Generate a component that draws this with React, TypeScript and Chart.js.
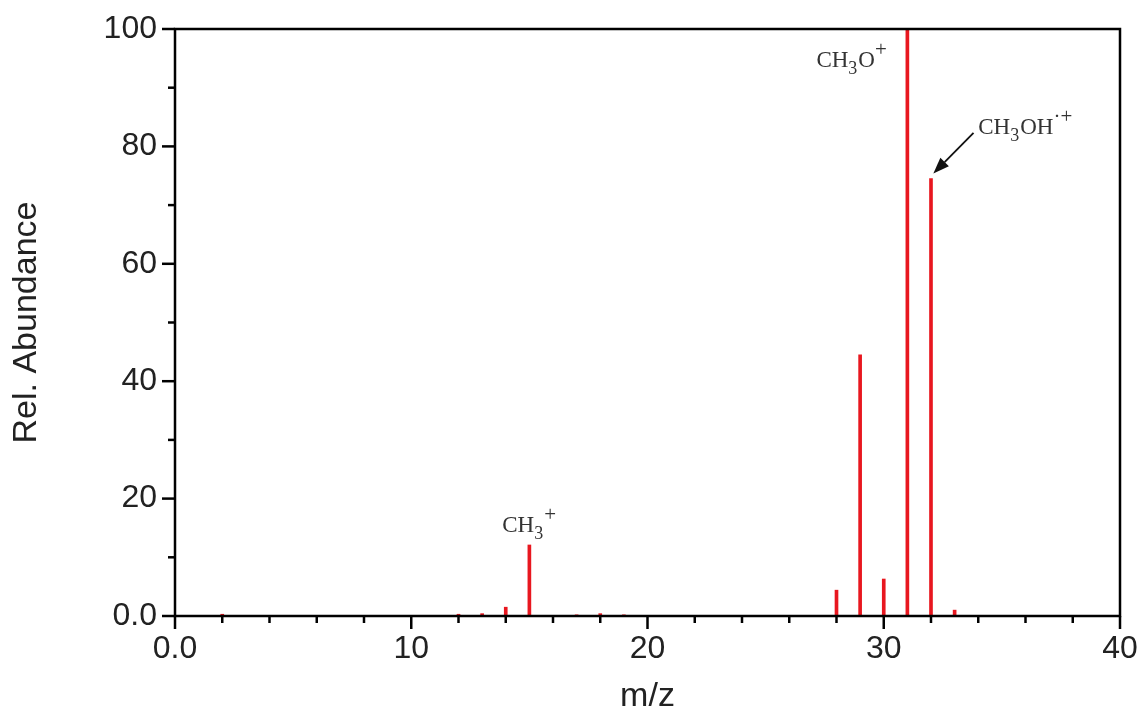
import React, { useEffect, useRef } from 'react';
import { Chart, registerables } from 'chart.js';

Chart.register(...registerables);

// ---- data ----
const mzValues = [2, 12, 13, 14, 15, 17, 18, 19, 28, 29, 30, 31, 32, 33];
const relAbundance = [0.3, 0.3, 0.4, 1.5, 12.1, 0.2, 0.4, 0.2, 4.4, 44.5, 6.3, 100, 74.5, 1.0];

const xTickValues = [0, 10, 20, 30, 40];
const xTickLabels = ['0.0', '10', '20', '30', '40'];
const yTickValues = [0, 20, 40, 60, 80, 100];
const yTickLabels = ['0.0', '20', '40', '60', '80', '100'];
const xMinorStep = 2;
const yMinorStep = 10;

// peak annotations: [text, style] parts, anchored in data coords (start of text baseline)
const annotationParts = [
  [['CH', ''], ['3', 'sub'], ['+', 'sup']],
  [['CH', ''], ['3', 'sub'], ['O', ''], ['+', 'sup']],
  [['CH', ''], ['3', 'sub'], ['OH', ''], ['\u00B7+', 'sup']],
];
const annotationX = [13.85, 27.15, 34.0];
const annotationY = [14.3, 93.6, 82.1];
// arrow from annotation toward m/z 32 peak
const arrowFrom = [33.8, 82.3];
const arrowTo = [32.1, 75.4];

const RED = '#e8171f';
const SANS = "'Liberation Sans', Arial, sans-serif";
const SERIF = "'Liberation Serif', 'Times New Roman', serif";

const decorPlugin = {
  id: 'decor',
  afterDatasetsDraw(chart: any) {
    const { ctx, chartArea } = chart;
    const xs = chart.scales.x;
    const ys = chart.scales.y;
    const { left, right, top, bottom } = chartArea;
    ctx.save();
    ctx.strokeStyle = '#000';
    ctx.lineWidth = 2.5;
    ctx.lineCap = 'butt';
    for (let v = xs.min; v <= xs.max + 1e-9; v += xMinorStep) {
      const px = xs.getPixelForValue(v);
      const major = xTickValues.includes(v);
      ctx.beginPath();
      ctx.moveTo(px, bottom);
      ctx.lineTo(px, bottom + (major ? 13 : 7));
      ctx.stroke();
    }
    for (let v = ys.min; v <= ys.max + 1e-9; v += yMinorStep) {
      const py = ys.getPixelForValue(v);
      const major = yTickValues.includes(v);
      ctx.beginPath();
      ctx.moveTo(left, py);
      ctx.lineTo(left - (major ? 13 : 7), py);
      ctx.stroke();
    }
    ctx.beginPath();
    ctx.rect(left, top, right - left, bottom - top);
    ctx.stroke();

    ctx.fillStyle = '#333';
    ctx.textBaseline = 'alphabetic';
    ctx.textAlign = 'left';
    annotationParts.forEach((parts, i) => {
      let px = xs.getPixelForValue(annotationX[i]);
      const py = ys.getPixelForValue(annotationY[i]);
      parts.forEach(([t, s]) => {
        let size = 23;
        let dy = 0;
        if (s === 'sub') { size = 18; dy = 7; }
        if (s === 'sup') { size = 21; dy = -11; }
        ctx.font = `${size}px ${SERIF}`;
        ctx.fillText(t, px, py + dy);
        px += ctx.measureText(t).width + (s === 'sub' ? 1 : 0);
      });
    });

    const ax0 = xs.getPixelForValue(arrowFrom[0]);
    const ay0 = ys.getPixelForValue(arrowFrom[1]);
    const ax1 = xs.getPixelForValue(arrowTo[0]);
    const ay1 = ys.getPixelForValue(arrowTo[1]);
    const ang = Math.atan2(ay1 - ay0, ax1 - ax0);
    const headLen = 16;
    const headW = 6;
    const bx = ax1 - headLen * Math.cos(ang);
    const by = ay1 - headLen * Math.sin(ang);
    ctx.strokeStyle = '#111';
    ctx.lineWidth = 1.8;
    ctx.beginPath();
    ctx.moveTo(ax0, ay0);
    ctx.lineTo(bx, by);
    ctx.stroke();
    ctx.fillStyle = '#111';
    ctx.beginPath();
    ctx.moveTo(ax1, ay1);
    ctx.lineTo(bx + headW * Math.sin(ang), by - headW * Math.cos(ang));
    ctx.lineTo(bx - headW * Math.sin(ang), by + headW * Math.cos(ang));
    ctx.closePath();
    ctx.fill();
    ctx.restore();
  },
};

export default function App() {
  const canvasRef = useRef<HTMLCanvasElement | null>(null);

  useEffect(() => {
    document.body.style.margin = '0';
    const canvas = canvasRef.current;
    if (!canvas) return;
    const chart = new Chart(canvas, {
      type: 'bar',
      data: {
        datasets: [
          {
            data: mzValues.map((m, i) => ({ x: m, y: relAbundance[i] })),
            backgroundColor: RED,
            borderWidth: 0,
            barThickness: 3,
          },
        ],
      },
      options: {
        responsive: false,
        animation: false,
        devicePixelRatio: 1,
        layout: { padding: { left: 0, top: 29, right: 21, bottom: 0 } },
        plugins: { legend: { display: false }, tooltip: { enabled: false } },
        scales: {
          x: {
            type: 'linear',
            min: 0,
            max: 40,
            offset: false,
            grid: { display: false, drawTicks: false, offset: false },
            border: { display: false },
            afterFit: (s: any) => {
              s.height = 98;
              s.paddingLeft = 0;
              s.paddingRight = 0;
            },
            afterBuildTicks: (s: any) => { s.ticks = xTickValues.map((v) => ({ value: v })); },
            ticks: {
              autoSkip: false,
              maxRotation: 0,
              padding: 14,
              color: '#222',
              font: { family: SANS, size: 32 },
              callback: (v: any) => {
                const i = xTickValues.indexOf(Number(v));
                return i >= 0 ? xTickLabels[i] : '';
              },
            },
            title: {
              display: true,
              text: 'm/z',
              color: '#222',
              font: { family: SANS, size: 34, lineHeight: 1 },
              padding: { top: 0, bottom: 0 },
            },
          },
          y: {
            min: 0,
            max: 100,
            grid: { display: false, drawTicks: false },
            border: { display: false },
            afterFit: (s: any) => {
              s.width = 175;
              s.paddingTop = 0;
              s.paddingBottom = 0;
            },
            afterBuildTicks: (s: any) => { s.ticks = yTickValues.map((v) => ({ value: v })); },
            ticks: {
              autoSkip: false,
              padding: 18,
              color: '#222',
              font: { family: SANS, size: 32 },
              callback: (v: any) => {
                const i = yTickValues.indexOf(Number(v));
                return i >= 0 ? yTickLabels[i] : '';
              },
            },
            title: {
              display: true,
              text: 'Rel. Abundance',
              color: '#222',
              font: { family: SANS, size: 34, lineHeight: 1 },
              padding: { top: 10, bottom: 0 },
            },
          },
        },
      },
      plugins: [decorPlugin],
    } as any);
    return () => chart.destroy();
  }, []);

  return <canvas ref={canvasRef} width={1141} height={714} />;
}
